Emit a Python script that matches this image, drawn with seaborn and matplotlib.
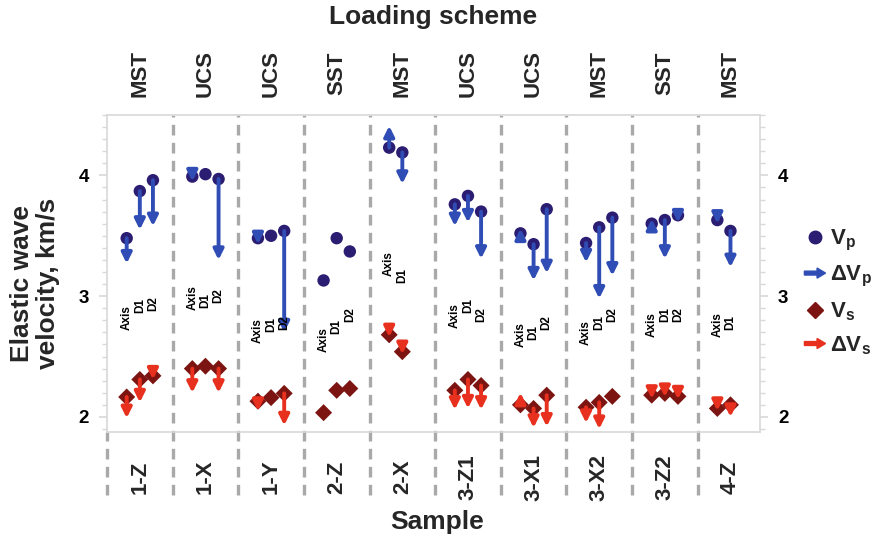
import matplotlib
matplotlib.use("Agg")
import matplotlib.pyplot as plt
import matplotlib.patches as mpatches
import matplotlib.transforms as mtransforms
from matplotlib.lines import Line2D
from matplotlib.legend_handler import HandlerPatch
from matplotlib.ticker import MultipleLocator
import numpy as np
import pandas as pd
import seaborn as sns

# Samples and the loading scheme used for each
samples = ['1-Z', '1-X', '1-Y', '2-Z', '2-X', '3-Z1', '3-X1', '3-X2', '3-Z2', '4-Z']
schemes = ['MST', 'UCS', 'UCS', 'SST', 'MST', 'UCS', 'UCS', 'MST', 'SST', 'MST']
directions = ['Axis', 'D1', 'D2']

nan = np.nan
# P-wave velocity before loading (km/s) and after loading (end of the dVp arrow)
vp = [[3.48, 3.87, 3.96], [3.99, 4.01, 3.97], [3.48, 3.50, 3.54], [3.13, 3.48, 3.37],
      [4.23, 4.19], [3.76, 3.83, 3.70], [3.52, 3.43, 3.72], [3.44, 3.57, 3.65],
      [3.60, 3.63, 3.67], [3.63, 3.54]]
vp_after = [[3.27, 3.55, 3.58], [3.95, nan, 3.30], [3.43, nan, 2.70], [nan, nan, nan],
            [4.41, 3.93], [3.58, 3.61, 3.31], [3.56, 3.13, 3.19], [3.28, 2.98, 3.17],
            [3.64, 3.31, 3.61], [3.60, 3.24]]
# S-wave velocity before and after loading
vs = [[2.165, 2.31, 2.34], [2.40, 2.42, 2.40], [2.13, 2.16, 2.195], [2.035, 2.22, 2.235],
      [2.68, 2.54], [2.22, 2.31, 2.26], [2.10, 2.07, 2.18], [2.08, 2.12, 2.17],
      [2.18, 2.195, 2.17], [2.07, 2.10]]
vs_after = [[1.99, 2.12, 2.31], [2.20, nan, 2.20], [2.05, nan, 1.93], [nan, nan, nan],
            [2.66, 2.52], [2.06, 2.07, 2.06], [2.20, 1.91, 1.92], [1.95, 1.90, 1.87],
            [2.15, 2.165, 2.145], [2.05, 2.00]]

# where the rotated direction labels start (km/s scale)
label_y = [[2.72, 2.86, 2.88], [2.885, 2.90, 2.94], [2.61, 2.70, 2.72], [2.54, 2.69, 2.785],
           [3.17, 3.11], [2.735, 2.86, 2.785], [2.58, 2.64, 2.72], [2.595, 2.72, 2.785],
           [2.66, 2.785, 2.785], [2.66, 2.72]]

vp_color = '#2b1d72'
dvp_color = '#2f4db4'
vs_color = '#7c1512'
dvs_color = '#e8301e'
grid_color = '#a9a9a9'
frame_color = '#d8d8d8'

sns.set_theme(style='white')
plt.rcParams['font.family'] = ['Liberation Sans', 'DejaVu Sans']
plt.rcParams['font.weight'] = 'bold'
plt.rcParams['mathtext.fontset'] = 'custom'
plt.rcParams['mathtext.bf'] = 'Liberation Sans:bold'
plt.rcParams['mathtext.rm'] = 'Liberation Sans:bold'

# long table of points
rows = []
for i, s in enumerate(samples):
    for j in range(len(vp[i])):
        x = i + 0.3 + 0.2 * j
        rows.append(dict(sample=s, direction=directions[j], x=x,
                         vp=vp[i][j], vp_after=vp_after[i][j],
                         vs=vs[i][j], vs_after=vs_after[i][j]))
df = pd.DataFrame(rows)

fig = plt.figure(figsize=(8.79, 5.45), dpi=100)
ax = fig.add_axes([107 / 879, 1 - 432 / 545, 653 / 879, 317 / 545])
ax.set_xlim(0, 9.95)
ax.set_ylim(1.875, 4.5)

sns.scatterplot(data=df, x='x', y='vp', marker='o', color=vp_color, s=80,
                edgecolor='none', ax=ax, zorder=3)
sns.scatterplot(data=df, x='x', y='vs', marker='D', color=vs_color, s=75,
                edgecolor='none', ax=ax, zorder=3)

# change arrows; very short ones still get a full-size head
pts_per_unit = 317 * 72 / 100 / (4.5 - 1.875)
head_pts = 8.0
astyle = '-|>,head_length=0.6,head_width=0.3'
for _, r in df.iterrows():
    for start, end, col in [(r.vp, r.vp_after, dvp_color), (r.vs, r.vs_after, dvs_color)]:
        if np.isnan(end):
            continue
        props = dict(arrowstyle=astyle, color=col, lw=2.8, shrinkA=0, shrinkB=0,
                     mutation_scale=10)
        if abs(end - start) * pts_per_unit >= head_pts:
            ax.annotate('', xy=(r.x, end), xytext=(r.x, start), arrowprops=props, zorder=4)
        else:
            sign = 1 if end < start else -1
            ax.annotate('', xy=(r.x, end), xytext=(0, sign * head_pts),
                        textcoords='offset points', arrowprops=props, zorder=4)

# direction labels
for _, r in df.iterrows():
    i = samples.index(r['sample'])
    j = directions.index(r['direction'])
    ax.text(r.x, label_y[i][j], r['direction'], rotation=90, ha='center', va='bottom',
            fontsize=8.5, fontweight='bold', color='black', zorder=5)

# dashed separators, running below the frame too
trans = mtransforms.blended_transform_factory(ax.transData, ax.transAxes)
for i in range(10):
    ytop = 1.0 if i > 0 else 0.0
    ax.plot([i, i], [-0.2, ytop], transform=trans, color=grid_color, lw=2.4,
            ls=(0, (3.2, 2.2)), clip_on=False, zorder=1)

for i, (s, sc) in enumerate(zip(samples, schemes)):
    ax.text(i + 0.5, -0.142, s, transform=trans, rotation=90, ha='center', va='center',
            fontsize=16, fontweight='bold')
    ax.text(i + 0.5, 1.13, sc, transform=trans, rotation=90, ha='center', va='center',
            fontsize=16, fontweight='bold')

ax.text(0.5, 1.309, 'Loading scheme', transform=ax.transAxes, ha='center', va='center',
        fontsize=19, fontweight='bold')
ax.text(0.505, -0.284, 'Sample', transform=ax.transAxes, ha='center', va='center',
        fontsize=19, fontweight='bold')
ax.text(-0.11, 0.47, 'Elastic wave\nvelocity, km/s', transform=ax.transAxes, rotation=90,
        ha='center', va='center', fontsize=19, fontweight='bold', multialignment='center',
        linespacing=1.1)
ax.set_xlabel('')
ax.set_ylabel('')

# frame and ticks
for sp in ax.spines.values():
    sp.set_color(frame_color)
    sp.set_linewidth(1.2)
ax.set_xticks([])
ax.yaxis.set_major_locator(MultipleLocator(1))
ax.yaxis.set_minor_locator(MultipleLocator(0.1))
ax.tick_params(axis='y', which='both', left=True, right=True, labelleft=True,
               labelright=True, direction='out', colors=frame_color, labelcolor='black')
ax.tick_params(axis='y', which='major', length=6, width=1.2, pad=7, labelsize=13.5)
ax.tick_params(axis='y', which='minor', length=3.5, width=1)
for lab in ax.get_yticklabels():
    lab.set_fontweight('bold')


def arrow_patch(legend, orig_handle, xdescent, ydescent, width, height, fontsize):
    return mpatches.FancyArrow(-xdescent, height / 2 - ydescent, width, 0,
                               width=height * 0.25, head_width=height * 0.65,
                               head_length=width * 0.4, length_includes_head=True)


handles = [
    Line2D([], [], marker='o', ls='', color=vp_color, markersize=9),
    mpatches.Patch(color=dvp_color),
    Line2D([], [], marker='D', ls='', color=vs_color, markersize=8),
    mpatches.Patch(color=dvs_color),
]
labels = [r'$\mathbf{V_p}$', r'$\mathbf{\Delta V_p}$', r'$\mathbf{V_s}$', r'$\mathbf{\Delta V_s}$']
ax.legend(handles, labels, loc='center left', bbox_to_anchor=(1.068, 0.44),
          frameon=False, fontsize=16, handlelength=0.95, handletextpad=0.2,
          labelspacing=0.5, borderpad=0, borderaxespad=0,
          handler_map={mpatches.Patch: HandlerPatch(patch_func=arrow_patch)})

fig.savefig('out.png', dpi=100)
